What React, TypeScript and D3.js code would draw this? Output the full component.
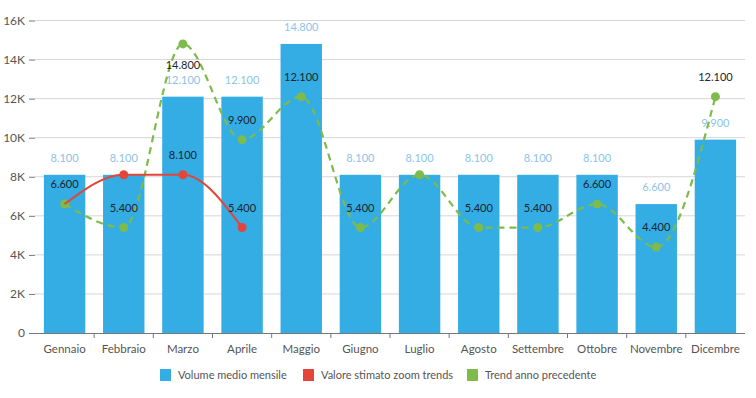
import React, { useRef, useEffect } from 'react';
import * as d3 from 'd3';

const months = ['Gennaio', 'Febbraio', 'Marzo', 'Aprile', 'Maggio', 'Giugno', 'Luglio', 'Agosto', 'Settembre', 'Ottobre', 'Novembre', 'Dicembre'];
const volume = [8100, 8100, 12100, 12100, 14800, 8100, 8100, 8100, 8100, 8100, 6600, 9900];
const stimato = [6600, 8100, 8100, 5400];
const trend = [6600, 5400, 14800, 9900, 12100, 5400, 8100, 5400, 5400, 6600, 4400, 12100];
const yTicks = [0, 2000, 4000, 6000, 8000, 10000, 12000, 14000, 16000];
const legendItems = ['Volume medio mensile', 'Valore stimato zoom trends', 'Trend anno precedente'];

const W = 756, H = 398;
const BLUE = '#33ade3', RED = '#e4453a', GREEN = '#7cbb4c';
const FONT = 'Lato, "Noto Sans", sans-serif';

const App = () => {
    const svgRef = useRef<SVGSVGElement>(null);

    useEffect(() => {
        const svg = d3.select(svgRef.current);
        svg.selectAll('*').remove();

        const fmt = d3.formatLocale({ decimal: ',', thousands: '.', grouping: [3], currency: ['€', ''] }).format(',');

        const x = d3.scaleBand<string>().domain(months).range([35, 745]).paddingInner(0.3).paddingOuter(0.15);
        const y = d3.scaleLinear().domain([0, 16000]).range([333, 20.5]);
        const cx = (i: number) => (x(months[i]) as number) + x.bandwidth() / 2;

        // griglia
        svg.append('g').selectAll('line').data(yTicks.slice(1)).enter().append('line')
            .attr('x1', 35).attr('x2', 745)
            .attr('y1', d => y(d)).attr('y2', d => y(d))
            .attr('stroke', '#d6d6d6').attr('stroke-width', 1);

        // asse Y
        const yAxis = d3.axisLeft(y).tickValues(yTicks).tickSize(6).tickPadding(4)
            .tickFormat(d => (+d === 0 ? '0' : `${+d / 1000}K`));
        const gy = svg.append('g').attr('transform', 'translate(35,0)').call(yAxis);
        gy.select('.domain').remove();
        gy.selectAll('line').attr('stroke', '#777');
        gy.selectAll('text').attr('fill', '#555').style('font-family', FONT).style('font-size', '12px');

        // barre
        svg.append('g').selectAll('rect').data(volume).enter().append('rect')
            .attr('x', (d, i) => x(months[i]) as number)
            .attr('y', d => y(d))
            .attr('width', x.bandwidth())
            .attr('height', d => y(0) - y(d))
            .attr('fill', BLUE);

        // asse X
        const xAxis = d3.axisBottom(x).tickSize(0).tickPadding(12);
        const gx = svg.append('g').attr('transform', 'translate(0,333)').call(xAxis);
        gx.select('.domain').attr('stroke', '#777').attr('d', 'M30,0.5H745');
        gx.selectAll('text').attr('fill', '#555').style('font-family', FONT).style('font-size', '11.5px');
        svg.append('g').selectAll('line').data(months.slice(1)).enter().append('line')
            .attr('x1', d => (x(d) as number) - x.step() * x.paddingInner() / 2)
            .attr('x2', d => (x(d) as number) - x.step() * x.paddingInner() / 2)
            .attr('y1', 333).attr('y2', 338)
            .attr('stroke', '#777');

        // etichette barre
        svg.append('g').selectAll('text').data(volume).enter().append('text')
            .attr('x', (d, i) => cx(i))
            .attr('y', d => y(d) - 13)
            .attr('text-anchor', 'middle')
            .attr('fill', '#8cc4e8')
            .style('font-family', FONT).style('font-size', '11px')
            .text(d => fmt(d));

        const line = (data: number[]) => d3.line<number>()
            .x((d, i) => cx(i))
            .y(d => y(d))
            .curve(d3.curveMonotoneX)(data);

        // linea trend anno precedente
        svg.append('path')
            .attr('d', line(trend))
            .attr('fill', 'none').attr('stroke', GREEN)
            .attr('stroke-width', 2.2).attr('stroke-dasharray', '7,5');
        svg.append('g').selectAll('circle').data(trend).enter().append('circle')
            .attr('cx', (d, i) => cx(i)).attr('cy', d => y(d)).attr('r', 4.5).attr('fill', GREEN);

        // linea valore stimato
        svg.append('path')
            .attr('d', line(stimato))
            .attr('fill', 'none').attr('stroke', RED).attr('stroke-width', 2);
        svg.append('g').selectAll('circle').data(stimato.slice(1)).enter().append('circle')
            .attr('cx', (d, i) => cx(i + 1)).attr('cy', d => y(d)).attr('r', 4.5).attr('fill', RED);

        // etichette linee
        const labels: { i: number; v: number }[] = [];
        trend.forEach((v, i) => { if (i !== 6) labels.push({ i, v }); });
        labels.push({ i: 2, v: stimato[2] });
        labels.push({ i: 3, v: stimato[3] });
        svg.append('g').selectAll('text').data(labels).enter().append('text')
            .attr('x', d => cx(d.i))
            .attr('y', d => (y(d.v) - 20 < 40 ? y(d.v) + 25 : y(d.v) - 16))
            .attr('text-anchor', 'middle')
            .attr('fill', '#1b2430')
            .style('font-family', FONT).style('font-size', '11px')
            .text(d => fmt(d.v));

        // legenda
        const legendX = [160, 303, 467];
        const colors = [BLUE, RED, GREEN];
        const lg = svg.append('g').selectAll('g').data(legendItems).enter().append('g')
            .attr('transform', (d, i) => `translate(${legendX[i]},369)`);
        lg.append('rect').attr('width', 11).attr('height', 12).attr('fill', (d, i) => colors[i]);
        lg.append('text').attr('x', 18).attr('y', 10)
            .attr('fill', '#555')
            .style('font-family', FONT).style('font-size', '11px')
            .text(d => d);
    }, []);

    return <svg ref={svgRef} width={W} height={H} style={{ position: 'absolute', left: 0, top: 0, background: '#fff' }}></svg>;
};

export default App;
